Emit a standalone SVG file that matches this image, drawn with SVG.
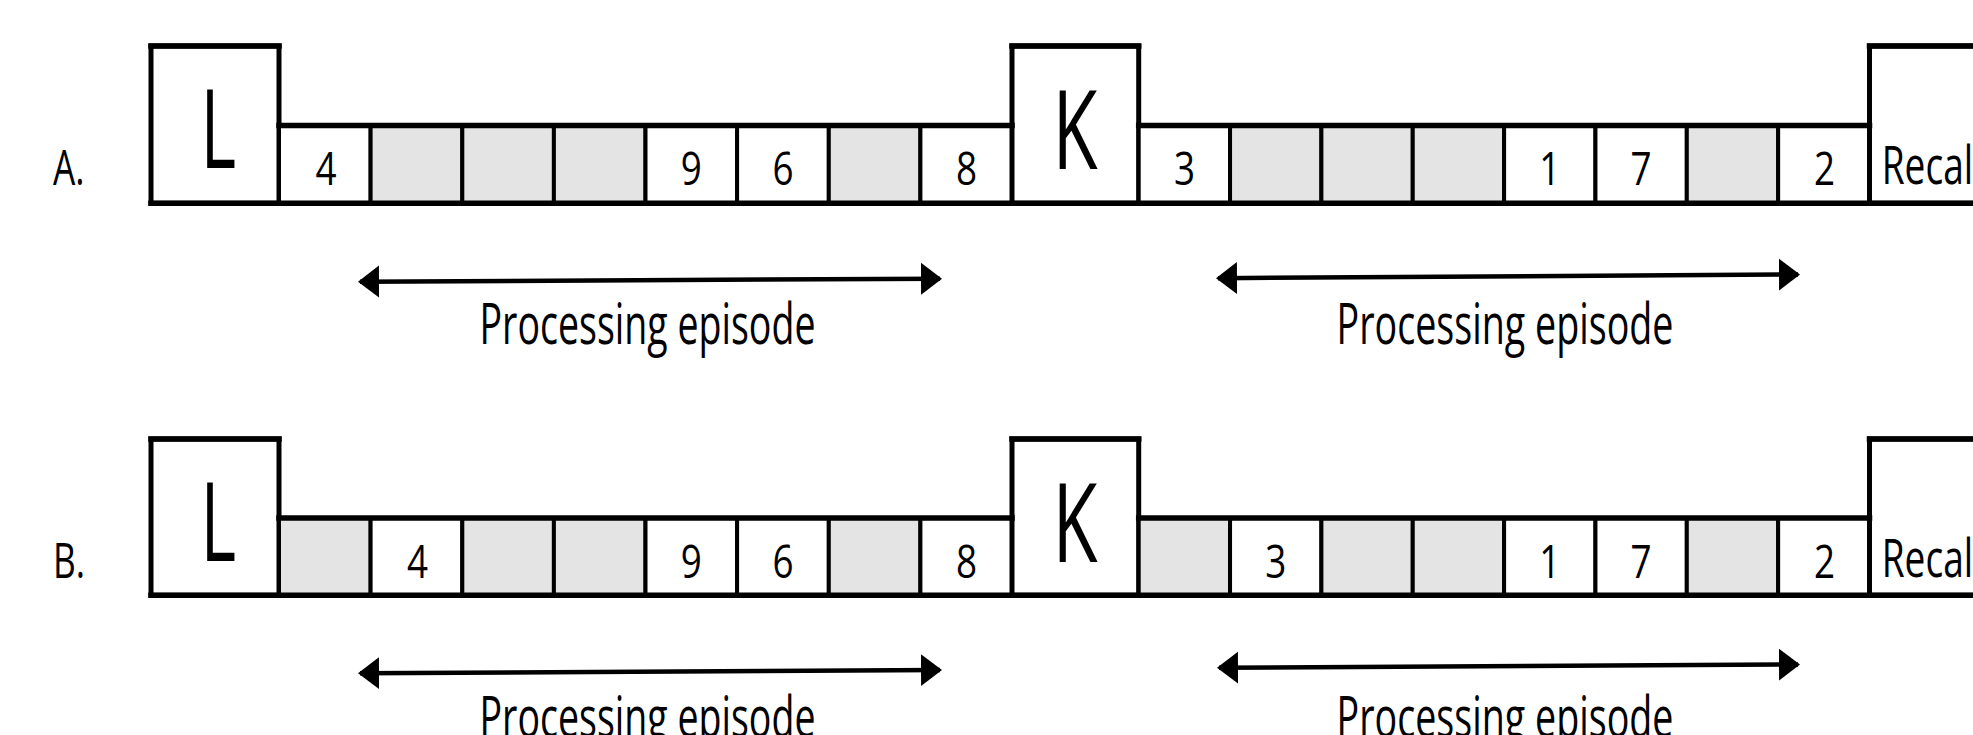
<svg xmlns="http://www.w3.org/2000/svg" width="1973" height="735" viewBox="0 0 1973 735">
<style>
text{font-family:"Open Sans","Noto Sans","Liberation Sans",sans-serif;fill:#000}
.cell{fill:#fff;stroke:#000;stroke-width:4}
.gray{fill:#e4e4e4;stroke:#000;stroke-width:4}
.box{fill:#fff;stroke:#000;stroke-width:5}
.edge{fill:none;stroke:#000;stroke-width:5.5;stroke-linecap:square}
.num{font-size:46px;text-anchor:middle}
.big{font-size:110px}
.lab{font-size:49px}
.rec{font-size:53px}
.cap{font-size:57px}
.arr{fill:none;stroke:#000;stroke-width:4.5;marker-start:url(#ah);marker-end:url(#ah)}
</style>
<defs>
<marker id="ah" markerUnits="userSpaceOnUse" markerWidth="22" markerHeight="34" refX="19" refY="17" orient="auto-start-reverse" viewBox="0 0 22 34">
<path d="M0,1 L21,17 L0,33 Z" fill="#000"/>
</marker>
</defs>

<!-- Row A -->
<g id="rowA">
<g id="A-label"><text class="lab" transform="translate(53,185) scale(0.72,1)">A.</text></g>
<g id="A-L"><rect class="box" x="151" y="46" width="128" height="157.3"/><text class="big" transform="translate(200.4,168.3) scale(0.62,1)">L</text></g>
<g id="A-c1"><rect class="cell" x="279" y="125.5" width="91.6" height="77.8"/><text class="num" transform="translate(326,185) scale(0.8,1)">4</text></g>
<g id="A-c2"><rect class="gray" x="370.6" y="125.5" width="91.7" height="77.8"/></g>
<g id="A-c3"><rect class="gray" x="462.3" y="125.5" width="91.6" height="77.8"/></g>
<g id="A-c4"><rect class="gray" x="553.9" y="125.5" width="91.6" height="77.8"/></g>
<g id="A-c5"><rect class="cell" x="645.5" y="125.5" width="91.6" height="77.8"/><text class="num" transform="translate(691.3,185) scale(0.8,1)">9</text></g>
<g id="A-c6"><rect class="cell" x="737.1" y="125.5" width="91.7" height="77.8"/><text class="num" transform="translate(783,185) scale(0.8,1)">6</text></g>
<g id="A-c7"><rect class="gray" x="828.8" y="125.5" width="91.6" height="77.8"/></g>
<g id="A-c8"><rect class="cell" x="920.4" y="125.5" width="91.6" height="77.8"/><text class="num" transform="translate(966.5,185) scale(0.8,1)">8</text></g>
<g id="A-K"><rect class="box" x="1012" y="46" width="126.7" height="157.3"/><text class="big" transform="translate(1052.6,168.7) scale(0.67,1)">K</text></g>
<g id="A-d1"><rect class="cell" x="1138.7" y="125.5" width="91.35" height="77.8"/><text class="num" transform="translate(1184.4,185) scale(0.8,1)">3</text></g>
<g id="A-d2"><rect class="gray" x="1230.05" y="125.5" width="91.35" height="77.8"/></g>
<g id="A-d3"><rect class="gray" x="1321.4" y="125.5" width="91.35" height="77.8"/></g>
<g id="A-d4"><rect class="gray" x="1412.75" y="125.5" width="91.35" height="77.8"/></g>
<g id="A-d5"><rect class="cell" x="1504.1" y="125.5" width="91.35" height="77.8"/><text class="num" transform="translate(1549.8,185) scale(0.8,1)">1</text></g>
<g id="A-d6"><rect class="cell" x="1595.45" y="125.5" width="91.35" height="77.8"/><text class="num" transform="translate(1641.1,185) scale(0.8,1)">7</text></g>
<g id="A-d7"><rect class="gray" x="1686.8" y="125.5" width="91.35" height="77.8"/></g>
<g id="A-d8"><rect class="cell" x="1778.15" y="125.5" width="91.35" height="77.8"/><text class="num" transform="translate(1824.5,185) scale(0.8,1)">2</text></g>
<g id="A-recall"><rect class="box" x="1869.5" y="46" width="140" height="157.3"/><text class="rec" transform="translate(1881.7,184) scale(0.7,1)">Recall</text></g>
<path class="edge" d="M151,203.3 H1990 M279,125.5 H1012 M1138.7,125.5 H1869.5 M151,46 H279 M1012,46 H1138.7 M1869.5,46 H1990"/>
</g>

<!-- Row B -->
<g id="rowB">
<g id="B-label"><text class="lab" transform="translate(53,578) scale(0.72,1)">B.</text></g>
<g id="B-L"><rect class="box" x="151" y="439" width="128" height="156.3"/><text class="big" transform="translate(200.4,561.3) scale(0.62,1)">L</text></g>
<g id="B-c1"><rect class="gray" x="279" y="518" width="91.6" height="77.3"/></g>
<g id="B-c2"><rect class="cell" x="370.6" y="518" width="91.7" height="77.3"/><text class="num" transform="translate(417.5,578) scale(0.8,1)">4</text></g>
<g id="B-c3"><rect class="gray" x="462.3" y="518" width="91.6" height="77.3"/></g>
<g id="B-c4"><rect class="gray" x="553.9" y="518" width="91.6" height="77.3"/></g>
<g id="B-c5"><rect class="cell" x="645.5" y="518" width="91.6" height="77.3"/><text class="num" transform="translate(691.3,578) scale(0.8,1)">9</text></g>
<g id="B-c6"><rect class="cell" x="737.1" y="518" width="91.7" height="77.3"/><text class="num" transform="translate(783,578) scale(0.8,1)">6</text></g>
<g id="B-c7"><rect class="gray" x="828.8" y="518" width="91.6" height="77.3"/></g>
<g id="B-c8"><rect class="cell" x="920.4" y="518" width="91.6" height="77.3"/><text class="num" transform="translate(966.5,578) scale(0.8,1)">8</text></g>
<g id="B-K"><rect class="box" x="1012" y="439" width="126.7" height="156.3"/><text class="big" transform="translate(1052.6,561.7) scale(0.67,1)">K</text></g>
<g id="B-d1"><rect class="gray" x="1138.7" y="518" width="91.35" height="77.3"/></g>
<g id="B-d2"><rect class="cell" x="1230.05" y="518" width="91.35" height="77.3"/><text class="num" transform="translate(1275.7,578) scale(0.8,1)">3</text></g>
<g id="B-d3"><rect class="gray" x="1321.4" y="518" width="91.35" height="77.3"/></g>
<g id="B-d4"><rect class="gray" x="1412.75" y="518" width="91.35" height="77.3"/></g>
<g id="B-d5"><rect class="cell" x="1504.1" y="518" width="91.35" height="77.3"/><text class="num" transform="translate(1549.8,578) scale(0.8,1)">1</text></g>
<g id="B-d6"><rect class="cell" x="1595.45" y="518" width="91.35" height="77.3"/><text class="num" transform="translate(1641.1,578) scale(0.8,1)">7</text></g>
<g id="B-d7"><rect class="gray" x="1686.8" y="518" width="91.35" height="77.3"/></g>
<g id="B-d8"><rect class="cell" x="1778.15" y="518" width="91.35" height="77.3"/><text class="num" transform="translate(1824.5,578) scale(0.8,1)">2</text></g>
<g id="B-recall"><rect class="box" x="1869.5" y="439" width="140" height="156.3"/><text class="rec" transform="translate(1881.7,577) scale(0.7,1)">Recall</text></g>
<path class="edge" d="M151,595.3 H1990 M279,518 H1012 M1138.7,518 H1869.5 M151,439 H279 M1012,439 H1138.7 M1869.5,439 H1990"/>
</g>

<!-- Connectors -->
<g id="connectors">
<path class="arr" d="M360,281.7 L940,278.7"/>
<path class="arr" d="M1218,278.2 L1798,274.5"/>
<path class="arr" d="M360,673.3 L940,670"/>
<path class="arr" d="M1219,667.8 L1798,664.5"/>
</g>

<g id="captions">
<text class="cap" x="479.5" y="344" textLength="336" lengthAdjust="spacingAndGlyphs">Processing episode</text>
<text class="cap" x="1336.5" y="344" textLength="337" lengthAdjust="spacingAndGlyphs">Processing episode</text>
<text class="cap" x="479.5" y="737" textLength="336" lengthAdjust="spacingAndGlyphs">Processing episode</text>
<text class="cap" x="1336.5" y="737" textLength="337" lengthAdjust="spacingAndGlyphs">Processing episode</text>
</g>
</svg>
